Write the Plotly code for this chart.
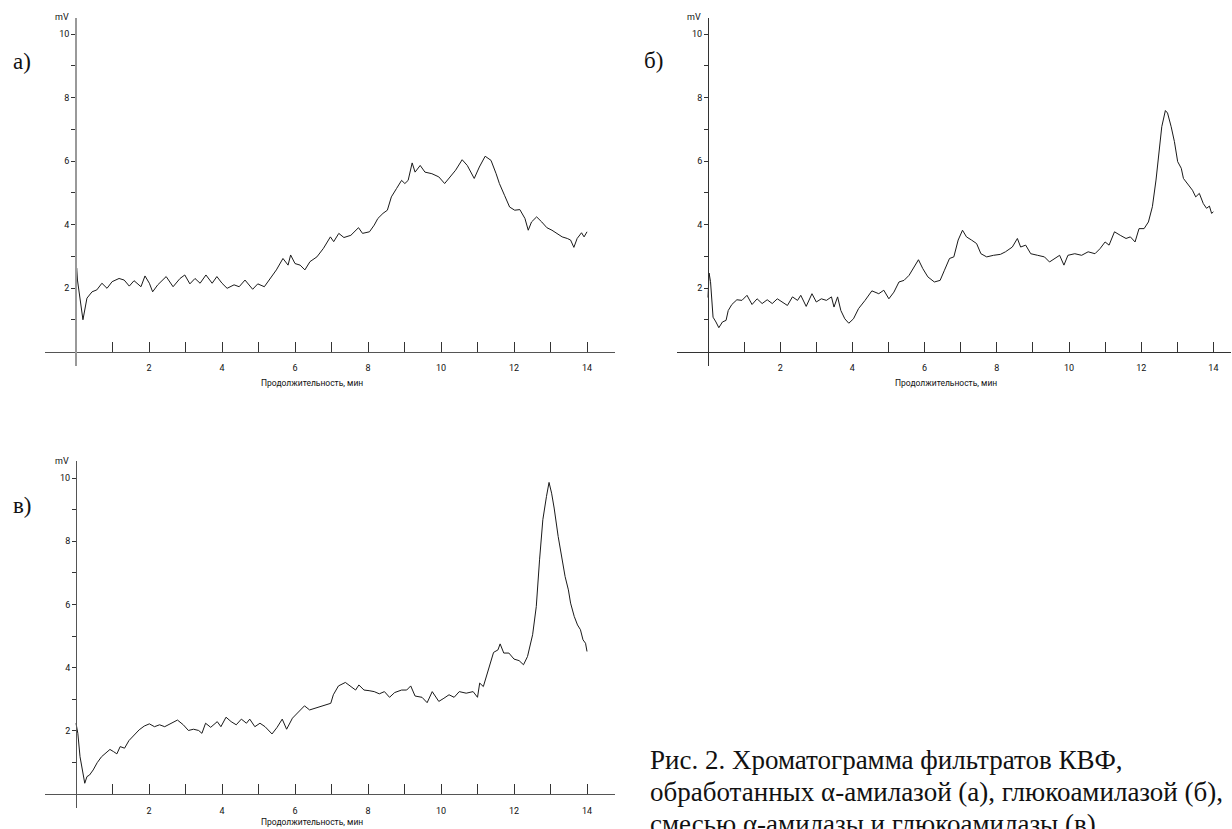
import plotly.graph_objects as go

W, H = 1232, 829

# ---------------- data (minutes, mV) ----------------
a_time = [0.00, 0.02, 0.04, 0.11, 0.19, 0.30, 0.44, 0.57, 0.71, 0.85, 0.99, 1.18, 1.32, 1.46, 1.59,
          1.78, 1.89, 2.01, 2.10, 2.24, 2.47, 2.66, 2.85, 2.98, 3.12, 3.26, 3.40, 3.56, 3.73, 3.86,
          4.00, 4.14, 4.33, 4.47, 4.63, 4.84, 4.98, 5.16, 5.30, 5.49, 5.67, 5.81, 5.88, 6.00, 6.14,
          6.27, 6.41, 6.60, 6.78, 6.97, 7.06, 7.20, 7.34, 7.53, 7.74, 7.85, 8.04, 8.17, 8.27, 8.41,
          8.53, 8.64, 8.78, 8.92, 9.01, 9.10, 9.21, 9.29, 9.43, 9.56, 9.75, 9.94, 10.10, 10.26, 10.40,
          10.58, 10.72, 10.91, 11.05, 11.21, 11.37, 11.51, 11.60, 11.74, 11.88, 12.02, 12.16, 12.30,
          12.39, 12.48, 12.62, 12.76, 12.90, 13.04, 13.18, 13.32, 13.46, 13.55, 13.64, 13.73, 13.85,
          13.92, 14.00]
a_mv = [2.46, 2.62, 2.25, 1.60, 1.00, 1.68, 1.88, 1.94, 2.15, 1.99, 2.20, 2.30, 2.25, 2.06, 2.23,
        2.04, 2.38, 2.15, 1.88, 2.10, 2.36, 2.04, 2.30, 2.41, 2.13, 2.30, 2.15, 2.41, 2.15, 2.36,
        2.15, 1.99, 2.10, 2.04, 2.25, 1.96, 2.13, 2.04, 2.25, 2.57, 2.93, 2.72, 3.04, 2.77, 2.72,
        2.57, 2.83, 2.98, 3.25, 3.61, 3.46, 3.72, 3.59, 3.66, 3.90, 3.72, 3.77, 3.98, 4.19, 4.35,
        4.45, 4.87, 5.13, 5.39, 5.29, 5.39, 5.94, 5.65, 5.86, 5.65, 5.60, 5.50, 5.29, 5.50, 5.71,
        6.04, 5.86, 5.45, 5.81, 6.15, 6.02, 5.60, 5.29, 4.92, 4.55, 4.45, 4.47, 4.19,
        3.82, 4.08, 4.24, 4.08, 3.90, 3.82, 3.72, 3.61, 3.56, 3.51, 3.28, 3.56, 3.74,
        3.61, 3.77]

b_time = [0.00, 0.03, 0.07, 0.10, 0.14, 0.22, 0.30, 0.40, 0.50, 0.56, 0.66, 0.80, 0.94, 1.08, 1.22,
          1.36, 1.50, 1.64, 1.78, 1.92, 2.06, 2.20, 2.34, 2.48, 2.57, 2.72, 2.88, 3.00, 3.14, 3.28,
          3.42, 3.49, 3.59, 3.68, 3.79, 3.90, 4.03, 4.17, 4.35, 4.54, 4.73, 4.87, 5.01, 5.15, 5.29,
          5.43, 5.57, 5.71, 5.83, 5.95, 6.09, 6.27, 6.43, 6.55, 6.69, 6.81, 6.93, 7.05, 7.16, 7.30,
          7.44, 7.56, 7.72, 7.91, 8.10, 8.24, 8.43, 8.57, 8.66, 8.80, 8.94, 9.13, 9.32, 9.46, 9.60,
          9.74, 9.86, 9.97, 10.16, 10.35, 10.53, 10.72, 10.86, 11.00, 11.11, 11.26, 11.42, 11.58,
          11.70, 11.83, 11.94, 12.08, 12.20, 12.31, 12.41, 12.50, 12.57, 12.67, 12.73, 12.83, 12.92,
          13.01, 13.11, 13.17, 13.30, 13.42, 13.51, 13.61, 13.72, 13.81, 13.89, 13.95, 14.00]
b_mv = [1.70, 2.47, 2.20, 1.60, 1.08, 0.93, 0.75, 0.93, 0.98, 1.29, 1.48, 1.63, 1.61, 1.77, 1.48,
        1.66, 1.51, 1.63, 1.51, 1.66, 1.56, 1.45, 1.72, 1.61, 1.77, 1.42, 1.82, 1.56, 1.66, 1.61,
        1.72, 1.40, 1.72, 1.29, 1.03, 0.89, 1.03, 1.35, 1.61, 1.91, 1.82, 1.93, 1.66, 1.87, 2.19,
        2.24, 2.40, 2.68, 2.89, 2.61, 2.35, 2.19, 2.24, 2.56, 2.93, 2.98, 3.51, 3.82, 3.61, 3.51,
        3.40, 3.08, 2.98, 3.03, 3.06, 3.14, 3.29, 3.56, 3.29, 3.35, 3.08, 3.03, 2.98, 2.82, 2.93,
        3.03, 2.72, 3.03, 3.08, 3.03, 3.14, 3.08, 3.24, 3.45, 3.35, 3.77, 3.66, 3.56,
        3.61, 3.45, 3.87, 3.87, 4.08, 4.56, 5.40, 6.35, 7.08, 7.59, 7.51, 7.08, 6.61,
        5.98, 5.77, 5.45, 5.24, 5.08, 4.87, 4.98, 4.66, 4.51, 4.58, 4.35, 4.40]

c_time = [0.00, 0.05, 0.11, 0.19, 0.24, 0.30, 0.37, 0.47, 0.58, 0.70, 0.84, 0.93, 1.03, 1.12, 1.21,
          1.33, 1.45, 1.59, 1.73, 1.87, 2.01, 2.15, 2.29, 2.43, 2.57, 2.78, 2.94, 3.08, 3.22, 3.36,
          3.45, 3.55, 3.69, 3.87, 3.97, 4.11, 4.25, 4.39, 4.53, 4.67, 4.76, 4.90, 5.04, 5.18, 5.37,
          5.51, 5.65, 5.77, 5.93, 6.07, 6.26, 6.40, 6.54, 6.72, 6.86, 6.98, 7.05, 7.19, 7.38, 7.52,
          7.66, 7.75, 7.89, 8.03, 8.17, 8.31, 8.45, 8.59, 8.73, 8.92, 9.06, 9.17, 9.29, 9.48, 9.62,
          9.76, 9.94, 10.08, 10.22, 10.36, 10.50, 10.69, 10.88, 11.00, 11.06, 11.16, 11.25, 11.34,
          11.44, 11.56, 11.62, 11.72, 11.86, 12.00, 12.14, 12.26, 12.37, 12.51, 12.61, 12.70, 12.79,
          12.89, 12.96, 13.03, 13.10, 13.21, 13.31, 13.40, 13.49, 13.55, 13.65, 13.74, 13.82, 13.89,
          13.96, 14.00]
c_mv = [2.24, 1.92, 1.18, 0.60, 0.34, 0.55, 0.60, 0.76, 0.99, 1.18, 1.34, 1.41, 1.34, 1.27, 1.50,
        1.45, 1.69, 1.87, 2.03, 2.15, 2.22, 2.13, 2.19, 2.13, 2.22, 2.34, 2.19, 2.01, 2.05, 2.01,
        1.92, 2.24, 2.11, 2.29, 2.13, 2.43, 2.29, 2.19, 2.37, 2.24, 2.37, 2.13, 2.24, 2.13, 1.90,
        2.11, 2.37, 2.05, 2.40, 2.56, 2.79, 2.66, 2.71, 2.77, 2.82, 2.87, 3.14, 3.42, 3.53, 3.42,
        3.29, 3.45, 3.29, 3.27, 3.24, 3.17, 3.24, 3.06, 3.21, 3.29, 3.29, 3.42, 3.10, 3.06, 2.89,
        3.24, 2.93, 3.03, 3.14, 3.06, 3.24, 3.19, 3.24, 3.06, 3.51, 3.40, 3.77, 4.14,
        4.48, 4.56, 4.75, 4.46, 4.46, 4.27, 4.22, 4.09, 4.35, 5.04, 5.93, 7.41, 8.68,
        9.42, 9.86, 9.52, 9.05, 8.15, 7.52, 6.88, 6.46, 6.04, 5.62, 5.35, 5.20, 4.88,
        4.77, 4.51]

x_tick_vals = list(range(1, 15))
x_tick_text = [str(v) if v % 2 == 0 else "" for v in x_tick_vals]
y_tick_vals = list(range(1, 11))
y_tick_text = [str(v) if v % 2 == 0 else "" for v in y_tick_vals]

panel_labels = ["а)", "б)", "в)"]
x_title = "Продолжительность, мин"
y_unit = "mV"
caption_lines = ["Рис. 2. Хроматограмма фильтратов КВФ,",
                 "обработанных α-амилазой (а), глюкоамилазой (б),",
                 "смесью α-амилазы и глюкоамилазы (в)."]

# ---------------- layout geometry (pixels) ----------------
panels = [
    dict(t=a_time, v=a_mv, x0=76, xs=36.5, y0=351.5, ys=31.75, xl=(45, 615), yl=(18, 366),
         ycol="#999999", yw=1.6, xcol="#555555", lab=(11, 62), mv=(62, 17), title=(312, 383)),
    dict(t=b_time, v=b_mv, x0=708, xs=36.1, y0=351.5, ys=31.75, xl=(677, 1231), yl=(18, 366),
         ycol="#333333", yw=1.0, xcol="#333333", lab=(642, 60), mv=(694, 17), title=(946, 383)),
    dict(t=c_time, v=c_mv, x0=76, xs=36.5, y0=794, ys=31.6, xl=(45, 615), yl=(461, 808),
         ycol="#555555", yw=1.0, xcol="#555555", lab=(11, 506), mv=(62, 461), title=(312, 822)),
]

fig = go.Figure()
annotations = []
for i, p in enumerate(panels):
    n = "" if i == 0 else str(i + 1)
    fig.add_trace(go.Scatter(x=p["t"], y=p["v"], mode="lines",
                             line=dict(color="#1a1a1a", width=1),
                             xaxis="x" + n, yaxis="y" + n, showlegend=False, hoverinfo="skip"))
    xr = [(p["xl"][0] - p["x0"]) / p["xs"], (p["xl"][1] - p["x0"]) / p["xs"]]
    yr = [(p["y0"] - p["yl"][1]) / p["ys"], (p["y0"] - p["yl"][0]) / p["ys"]]
    xd = [p["xl"][0] / W, p["xl"][1] / W]
    yd = [1 - p["yl"][1] / H, 1 - p["yl"][0] / H]
    fig.layout["xaxis" + n] = dict(
        domain=xd, range=xr, anchor="free", position=1 - p["y0"] / H,
        showline=True, linecolor=p["xcol"], linewidth=1, showgrid=False, zeroline=False,
        tickmode="array", tickvals=x_tick_vals, ticktext=x_tick_text,
        ticks="inside", ticklen=10, tickcolor="#333333", tickwidth=1,
        ticklabelstandoff=8, tickfont=dict(family="Roboto", size=9, color="#111111"),
        fixedrange=True)
    fig.layout["yaxis" + n] = dict(
        domain=yd, range=yr, anchor="free", position=p["x0"] / W,
        showline=True, linecolor=p["ycol"], linewidth=p["yw"], showgrid=False, zeroline=False,
        tickmode="array", tickvals=y_tick_vals, ticktext=y_tick_text,
        ticks="outside", ticklen=4, tickcolor="#333333", tickwidth=1,
        tickfont=dict(family="Roboto", size=9, color="#111111"),
        fixedrange=True)
    annotations.append(dict(text=panel_labels[i], x=p["lab"][0] / W, y=1 - p["lab"][1] / H,
                            xref="paper", yref="paper", xanchor="left", yanchor="middle",
                            showarrow=False, font=dict(family="Liberation Serif", size=23, color="#111111")))
    annotations.append(dict(text=y_unit, x=p["mv"][0] / W, y=1 - p["mv"][1] / H,
                            xref="paper", yref="paper", xanchor="center", yanchor="middle",
                            showarrow=False, font=dict(family="Roboto", size=9, color="#111111")))
    annotations.append(dict(text=x_title, x=p["title"][0] / W, y=1 - p["title"][1] / H,
                            xref="paper", yref="paper", xanchor="center", yanchor="middle",
                            showarrow=False, font=dict(family="Roboto", size=8.5, color="#111111")))

for k, line in enumerate(caption_lines):
    annotations.append(dict(text=line, x=648 / W, y=1 - (760 + 32 * k) / H,
                            xref="paper", yref="paper", xanchor="left", yanchor="middle",
                            showarrow=False, font=dict(family="Liberation Serif", size=27, color="#111111")))

fig.update_layout(width=W, height=H, margin=dict(l=0, r=0, t=0, b=0),
                  paper_bgcolor="white", plot_bgcolor="white", annotations=annotations,
                  showlegend=False)

fig.write_html("out.html", config={"displayModeBar": False},
               post_script="document.body.style.margin='0';document.body.style.overflow='hidden';")
